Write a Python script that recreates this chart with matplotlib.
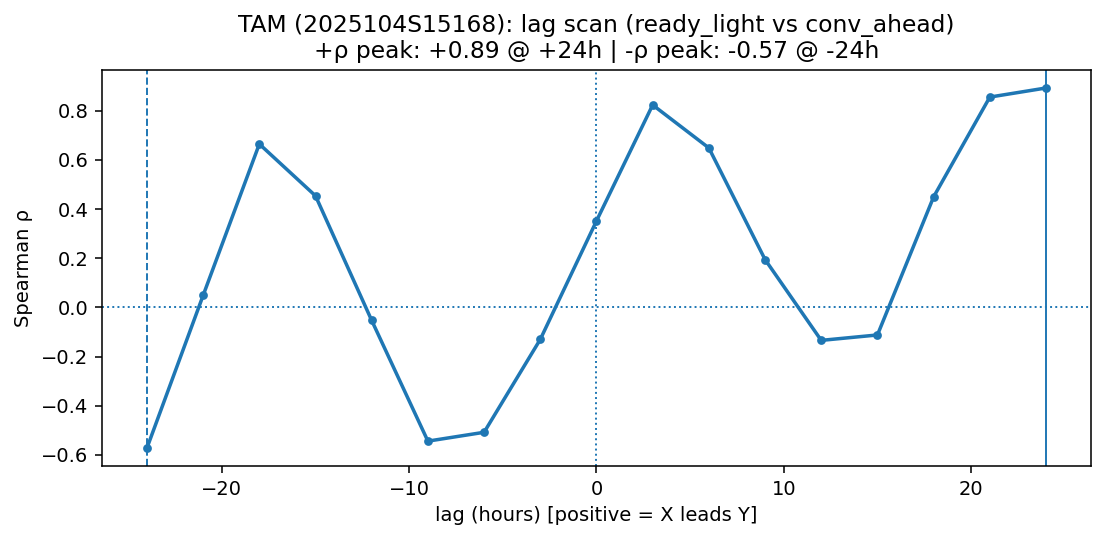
import numpy as np
import matplotlib
matplotlib.use("Agg")
import matplotlib.pyplot as plt

lags = [-24, -21, -18, -15, -12, -9, -6, -3, 0, 3, 6, 9, 12, 15, 18, 21, 24]
rho = [-0.572, 0.049, 0.665, 0.454, -0.053, -0.544, -0.508, -0.13, 0.352,
       0.824, 0.649, 0.195, -0.134, -0.112, 0.45, 0.856, 0.893]

pos_peak = 24
neg_peak = -24

fig, ax = plt.subplots(figsize=(1105 / 140, 540 / 140), dpi=140)
ax.plot(lags, rho, marker='o', markersize=3.5, linewidth=1.8)
ax.axhline(0, linestyle=':', linewidth=1)
ax.axvline(0, linestyle=':', linewidth=1)
ax.axvline(pos_peak, linestyle='-', linewidth=1)
ax.axvline(neg_peak, linestyle='--', linewidth=1)
ax.set_xlabel('lag (hours) [positive = X leads Y]')
ax.set_ylabel('Spearman ρ')
ax.set_title('TAM (2025104S15168): lag scan (ready_light vs conv_ahead)\n'
             '+ρ peak: +0.89 @ +24h | -ρ peak: -0.57 @ -24h')
fig.subplots_adjust(left=0.0923, right=0.9873, top=0.8704, bottom=0.137)
fig.savefig('out.png')
